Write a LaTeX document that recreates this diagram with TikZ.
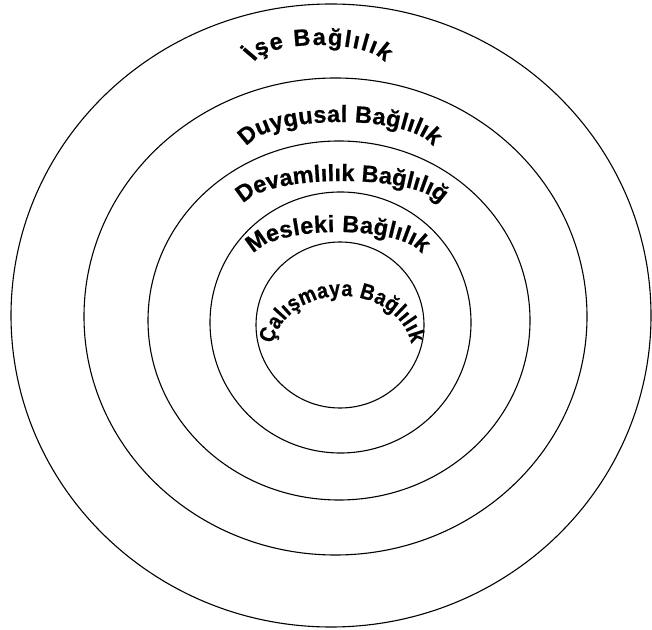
\documentclass[tikz,border=0pt]{standalone}
\usepackage{fontspec}
\setmainfont{Liberation Sans}
\newfontfamily\archfamA[FakeBold=0.6]{Liberation Sans}
\newfontfamily\archfamB[FakeStretch=0.9,FakeBold=0.6]{Liberation Sans}
\usetikzlibrary{decorations.text}
\newcommand\archfont{\archfamA\bfseries\fontsize{23.5}{28}\selectfont}
\newcommand\archfontsmall{\archfamB\bfseries\fontsize{22}{26}\selectfont}
\tikzset{
  ring/.style={draw=black, line width=1.1pt},
  arch/.style={decoration={text along path, text align=fit to path, raise=-5pt}},
}
\begin{document}
\begin{tikzpicture}[x=1pt,y=1pt]
\useasboundingbox (0,0) rectangle (652,629);
% concentric rings
\draw[ring] (331,313.5) ellipse [x radius=320, y radius=311.5];
\draw[ring] (335.5,312.5) ellipse [x radius=251.5, y radius=238.5];
\draw[ring] (339,308.5) ellipse [x radius=191, y radius=179.5];
\draw[ring] (340.5,306.5) ellipse [x radius=130.5, y radius=130.5];
\draw[ring] (340,304) ellipse [x radius=84, y radius=83];
% arched labels
\path[arch, decoration={text={|\archfont|İşe Bağlılık}}, decorate]
  ([shift={(319,567)}]172:69 and 22) arc[start angle=172, end angle=8, x radius=69, y radius=22];
\path[arch, decoration={text={|\archfont|Duygusal Bağlılık}}, decorate]
  ([shift={(340,481.5)}]172:97 and 30.5) arc[start angle=172, end angle=8, x radius=97, y radius=30.5];
\path[arch, decoration={text={|\archfont|Devamlılık Bağlılığ}}, decorate]
  ([shift={(342,424.8)}]172:102 and 28.2) arc[start angle=172, end angle=8, x radius=102, y radius=28.2];
\path[arch, decoration={text={|\archfont|Mesleki Bağlılık}}, decorate]
  ([shift={(338,374.6)}]172:87.5 and 27.4) arc[start angle=172, end angle=8, x radius=87.5, y radius=27.4];
\path[arch, decoration={text={|\archfontsmall|Çalışmaya Bağlılık}}, decorate]
  ([shift={(342,276)}]170:75 and 62) arc[start angle=170, end angle=10, x radius=75, y radius=62];
\end{tikzpicture}
\end{document}
